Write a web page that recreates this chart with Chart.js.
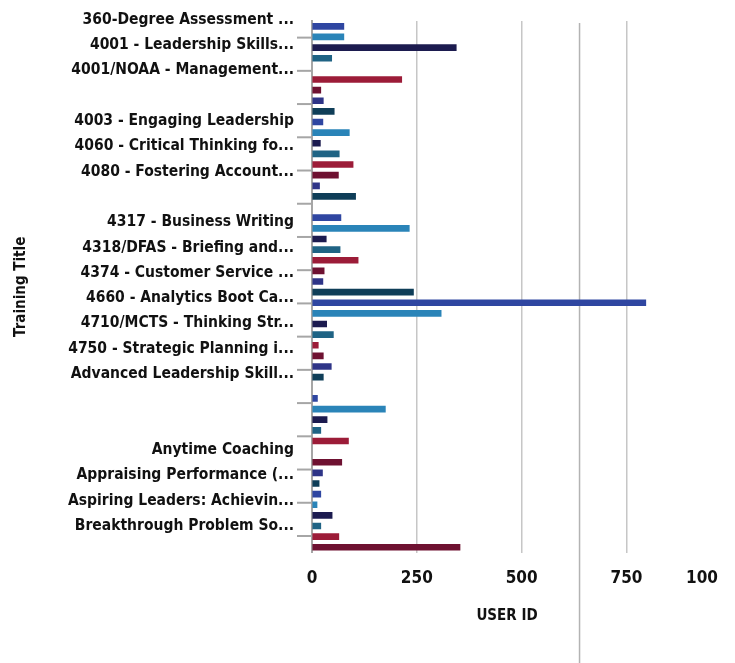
<!DOCTYPE html>
<html>
<head>
<meta charset="utf-8">
<title>Training Title by USER ID</title>
<script src="https://cdn.jsdelivr.net/npm/chart.js@4.4.1/dist/chart.umd.min.js"></script>
<style>
  html, body { margin: 0; padding: 0; background: #ffffff; }
</style>
</head>
<body>
<canvas id="myChart" width="735" height="663"></canvas>
<script>
// one bar per row, top to bottom (null = empty row)
const userCounts = [
  76, 76, 344, 47, null, 214, 21, 27, 53, 26, 89, 20, 65, 98, 63, 18, 104, null,
  69, 232, 34, 67, 110, 29, 26, 242, 796, 308, 35, 51, 15, 27, 46, 27, null,
  13, 175, 36, 21, 87, null, 71, 25, 17, 21, 12, 48, 21, 64, 353
];

// left axis labels ('' = no label in that slot)
const trainingTitles = [
  '360-Degree Assessment ...',
  '4001 - Leadership Skills...',
  '4001/NOAA - Management...',
  '',
  '4003 - Engaging Leadership',
  '4060 - Critical Thinking fo...',
  '4080 - Fostering Account...',
  '',
  '4317 - Business Writing',
  '4318/DFAS - Briefing and...',
  '4374 - Customer Service ...',
  '4660 - Analytics Boot Ca...',
  '4710/MCTS - Thinking Str...',
  '4750 - Strategic Planning i...',
  'Advanced Leadership Skill...',
  '',
  '',
  'Anytime Coaching',
  'Appraising Performance (...',
  'Aspiring Leaders: Achievin...',
  'Breakthrough Problem So...'
];

// bottom axis
const xTickValues = [0, 250, 500, 750, 930];
const xTickLabels = ['0', '250', '500', '750', '100'];

// short marks on the left axis
const markSlots = ['', '', '', '', '', '', '', '', '', '', '', '', '', '', '', ''];

const strayLineAt = 638;

const palette = ['#2f46a1', '#2a84b8', '#1c1b4f', '#1f6384', '#9c1c38', '#6e1131', '#2e3487', '#0f3e58'];

const rows = userCounts.map((v, i) => 'row ' + (i + 1));
let shown = 0;
const barColors = userCounts.map(v => v === null ? 'rgba(0,0,0,0)' : palette[shown++ % palette.length]);

Chart.defaults.font.family = "'DejaVu Sans Condensed', 'DejaVu Sans', sans-serif";
Chart.defaults.color = '#111111';

const decorations = {
  id: 'decorations',
  beforeDatasetsDraw(chart) {
    const ctx = chart.ctx;
    const x = chart.scales.x.getPixelForValue(strayLineAt);
    ctx.save();
    ctx.strokeStyle = '#b3b3b3';
    ctx.lineWidth = 1.5;
    ctx.beginPath();
    ctx.moveTo(x, chart.chartArea.top + 2);
    ctx.lineTo(x, chart.height);
    ctx.stroke();
    ctx.restore();
  },
  afterDraw(chart) {
    const ctx = chart.ctx;
    const marks = chart.scales.yMarks;
    const left = chart.chartArea.left;
    ctx.save();
    ctx.strokeStyle = '#a6a6a6';
    ctx.lineWidth = 2;
    marks.ticks.forEach((t, i) => {
      const y = marks.getPixelForTick(i);
      ctx.beginPath();
      ctx.moveTo(left - 15, y);
      ctx.lineTo(left, y);
      ctx.stroke();
    });
    ctx.restore();
  }
};

const config = {
  type: 'bar',
  data: {
    labels: rows,
    datasets: [{
      label: 'USER ID',
      data: userCounts,
      backgroundColor: barColors,
      barThickness: 6,
      yAxisID: 'y'
    }]
  },
  options: {
    indexAxis: 'y',
    responsive: false,
    animation: false,
    devicePixelRatio: 1,
    layout: { padding: { left: 4, right: 33, top: 21, bottom: 38 } },
    plugins: {
      legend: { display: false },
      tooltip: { enabled: false }
    },
    scales: {
      x: {
        type: 'linear',
        min: 0,
        max: 930,
        afterBuildTicks: axis => { axis.ticks = xTickValues.map(v => ({ value: v })); },
        ticks: {
          padding: 16,
          autoSkip: false,
          maxRotation: 0,
          font: { size: 17, weight: 'bold' },
          callback: (v, i) => xTickLabels[i]
        },
        grid: {
          drawTicks: false,
          lineWidth: 1.5,
          color: c => (c.tick && c.tick.value > 750) ? 'rgba(0,0,0,0)' : '#c6c6c6'
        },
        border: { display: false },
        title: {
          display: true,
          text: 'USER ID',
          font: { size: 15, weight: 'bold' },
          padding: { top: 2, bottom: 0 }
        }
      },
      y: {
        type: 'category',
        labels: rows,
        display: false,
        offset: true
      },
      yTitles: {
        type: 'category',
        labels: trainingTitles,
        position: 'left',
        offset: true,
        grid: { display: false },
        border: { display: true, color: '#a6a6a6', width: 2 },
        ticks: {
          padding: 10,
          labelOffset: -14,
          autoSkip: false,
          font: { size: 15.5, weight: 'bold', lineHeight: 0.5 }
        },
        title: {
          display: true,
          text: 'Training Title',
          font: { size: 15, weight: 'bold' },
          padding: { top: 8, bottom: 28 }
        }
      },
      yMarks: {
        type: 'category',
        labels: markSlots,
        position: 'left',
        offset: true,
        display: false
      }
    }
  },
  plugins: [decorations]
};

const myChart = new Chart(document.getElementById('myChart'), config);
</script>
</body>
</html>
